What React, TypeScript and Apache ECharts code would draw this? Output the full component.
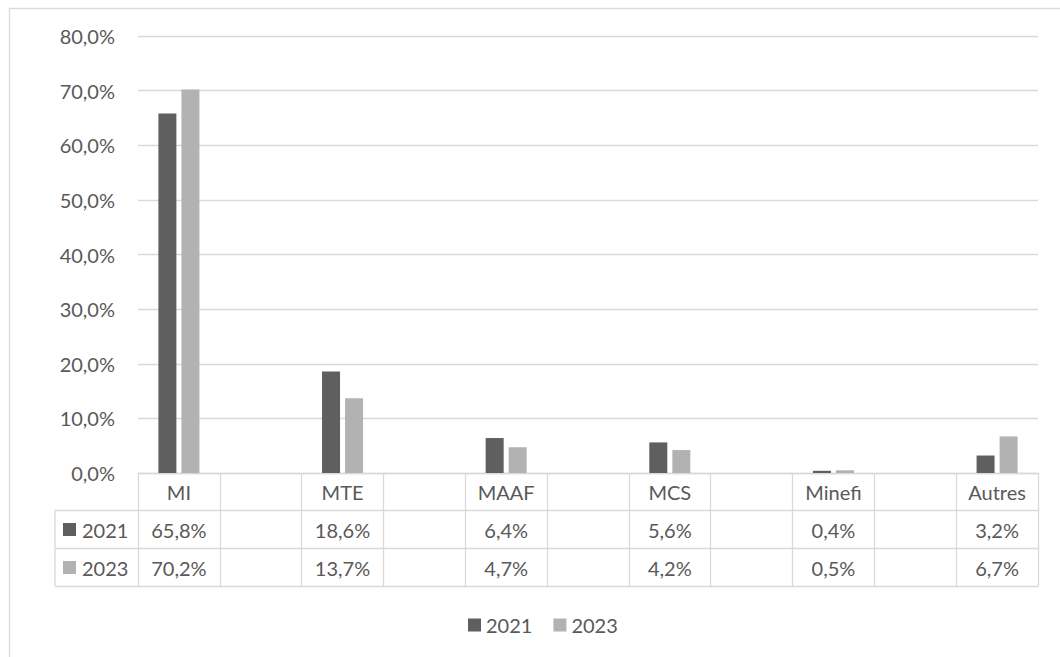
import React, { useEffect, useRef } from "react";
import * as echarts from "echarts";

const categories = ["MI", "MTE", "MAAF", "MCS", "Minefi", "Autres"];
const values2021 = [65.8, 18.6, 6.4, 5.6, 0.4, 3.2];
const values2023 = [70.2, 13.7, 4.7, 4.2, 0.5, 6.7];
const seriesNames = ["2021", "2023"];
const seriesColors = ["#5f5f5f", "#b2b2b2"];
const yMin = 0;
const yMax = 80;
const yStep = 10;

const FONT = "Lato, 'Open Sans', sans-serif";
const TXT = "#595959";
const LINE = "#d9d9d9";

const fmt = (v: number) => v.toFixed(1).replace(".", ",") + "%";

// Excel source interleaves an empty column between every category
function interleave<T>(arr: T[], empty: T): T[] {
  const out: T[] = [];
  arr.forEach((v, i) => {
    out.push(v);
    if (i < arr.length - 1) out.push(empty);
  });
  return out;
}

export default function App() {
  const ref = useRef<HTMLDivElement>(null);

  useEffect(() => {
    document.body.style.margin = "0";
    if (!ref.current) return;
    const chart = echarts.init(ref.current, null, { renderer: "svg" });

    const gridLeft = 138;
    const gridRight = 1038;
    const gridTop = 36;
    const axisY = 473;
    const rowH = [37.5, 38, 38];
    const row1 = axisY + rowH[0];
    const row2 = row1 + rowH[1];
    const row3 = row2 + rowH[2];
    const tableLeft = 55;

    const catSlots = interleave(categories, "");
    const rows = [values2021, values2023].map((vals) =>
      interleave(vals.map(fmt), "")
    );
    const seriesData = [values2021, values2023].map((vals) =>
      interleave<number | string>(vals, "-")
    );

    const lineStyle = { color: LINE, width: 1.3 };

    const tableAxis = (data: string[], offset: number, tickLen: number, showTicks = true) => ({
      type: "category",
      gridIndex: 0,
      position: "bottom",
      offset,
      data,
      boundaryGap: true,
      axisLine: { show: true, lineStyle },
      axisTick: { show: showTicks, interval: 0, length: tickLen, inside: false, lineStyle },
      axisLabel: {
        show: true,
        interval: 0,
        fontSize: 20,
        fontFamily: FONT,
        color: TXT,
        verticalAlign: "middle",
        margin: tickLen / 2,
      },
      splitLine: { show: false },
    });

    const graphics: any[] = [
      {
        type: "rect",
        shape: { x: 9.5, y: 8.5, width: 1200, height: 800 },
        style: { fill: "none", stroke: LINE, lineWidth: 1.3 },
        silent: true,
      },
      { type: "line", shape: { x1: tableLeft, y1: row1, x2: gridLeft, y2: row1 }, style: { stroke: LINE, lineWidth: 1.3 } },
      { type: "line", shape: { x1: tableLeft, y1: row2, x2: gridLeft, y2: row2 }, style: { stroke: LINE, lineWidth: 1.3 } },
      { type: "line", shape: { x1: tableLeft, y1: row3, x2: gridRight, y2: row3 }, style: { stroke: LINE, lineWidth: 1.3 } },
      { type: "line", shape: { x1: tableLeft, y1: row1, x2: tableLeft, y2: row3 }, style: { stroke: LINE, lineWidth: 1.3 } },
    ];
    seriesNames.forEach((name, i) => {
      const top = i === 0 ? row1 : row2;
      const h = rowH[i + 1];
      const cy = top + h / 2;
      graphics.push({
        type: "rect",
        shape: { x: 63, y: cy - 6.5, width: 13, height: 13 },
        style: { fill: seriesColors[i] },
      });
      graphics.push({
        type: "text",
        x: 82,
        y: cy,
        style: {
          text: name,
          fontSize: 20,
          fontFamily: FONT,
          fill: TXT,
          verticalAlign: "middle",
          align: "left",
        },
      });
    });

    chart.setOption({
      animation: false,
      backgroundColor: "#ffffff",
      textStyle: { fontFamily: FONT },
      grid: {
        left: gridLeft,
        right: 1060 - gridRight,
        top: gridTop,
        bottom: 657 - axisY,
        containLabel: false,
        outerBoundsMode: "none",
      },
      legend: {
        data: seriesNames,
        left: 463,
        top: 610,
        icon: "rect",
        itemWidth: 13,
        itemHeight: 13,
        itemGap: 21,
        textStyle: { fontSize: 20, fontFamily: FONT, color: TXT },
        selectedMode: false,
      },
      xAxis: [
        tableAxis(catSlots, 0, rowH[0]),
        tableAxis(rows[0], rowH[0], rowH[1]),
        tableAxis(rows[1], rowH[0] + rowH[1], rowH[2]),
      ],
      yAxis: {
        type: "value",
        min: yMin,
        max: yMax,
        interval: yStep,
        axisLine: { show: false },
        axisTick: { show: false },
        axisLabel: {
          formatter: (v: number) => fmt(v),
          fontSize: 20,
          fontFamily: FONT,
          color: TXT,
          margin: 23,
        },
        splitLine: { show: true, lineStyle },
      },
      series: seriesNames.map((name, i) => ({
        name,
        type: "bar",
        xAxisIndex: 0,
        data: seriesData[i],
        barWidth: 18,
        barGap: "28%",
        itemStyle: { color: seriesColors[i] },
      })),
      graphic: graphics,
    });

    return () => chart.dispose();
  }, []);

  return <div ref={ref} style={{ width: 1060, height: 657 }} />;
}
